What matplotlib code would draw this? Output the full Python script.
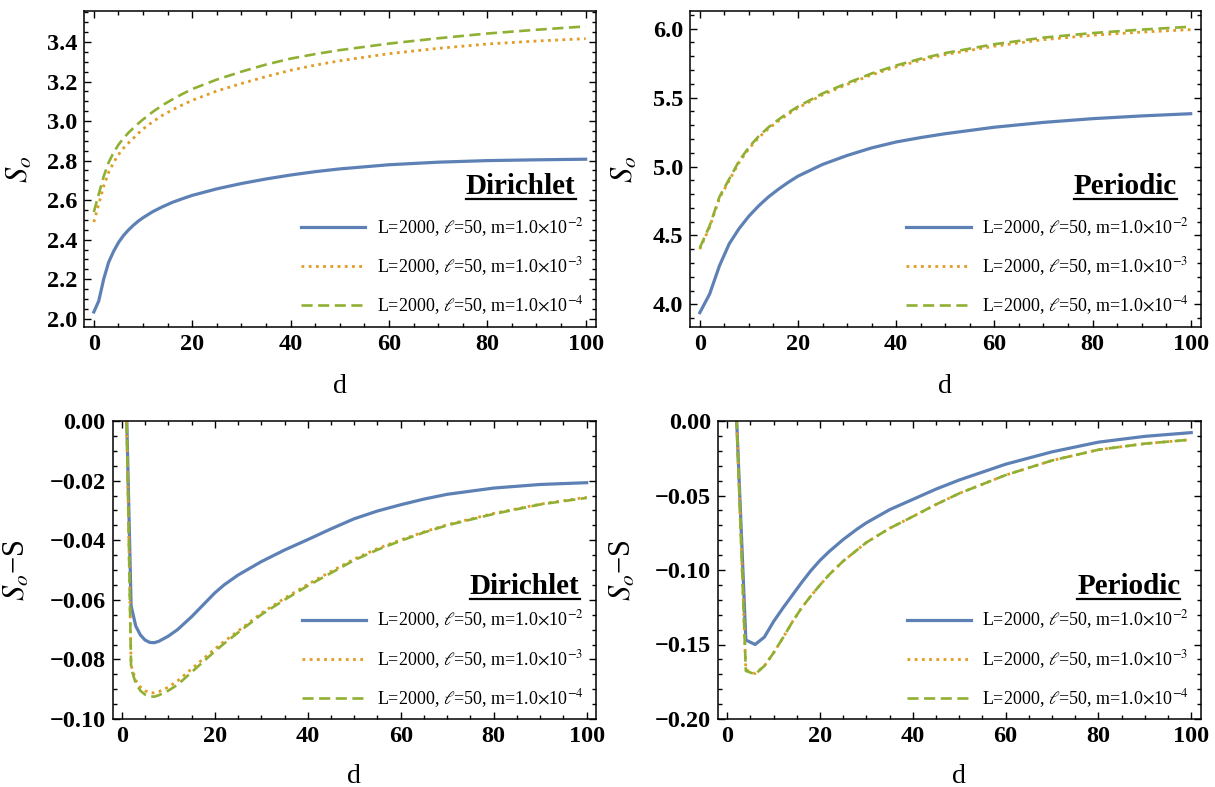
"""Entanglement S_o and S_o - S vs d for Dirichlet and periodic boundaries."""

import matplotlib
matplotlib.use("Agg")
from matplotlib import pyplot as plt
from matplotlib.lines import Line2D
from matplotlib.ticker import FuncFormatter, MultipleLocator
from matplotlib.transforms import IdentityTransform

BLUE = "#5E81B5"
ORANGE = "#E19C24"
GREEN = "#8FB032"

LABELS = [
    r"L=2000, $\ell$=50, m=1.0$\times$10$^{-2}$",
    r"L=2000, $\ell$=50, m=1.0$\times$10$^{-3}$",
    r"L=2000, $\ell$=50, m=1.0$\times$10$^{-4}$",
]

# top left: Dirichlet, S_o
d_dir = [0, 1, 2, 3, 4, 5, 6, 7, 8, 9, 10, 12, 14, 16, 18, 20, 25, 30, 35, 40, 45, 50,
         60, 70, 80, 90, 100]
so_dir_m2 = [2.034, 2.09, 2.20, 2.285, 2.34, 2.385, 2.42, 2.448, 2.472, 2.493, 2.511,
             2.542, 2.567, 2.589, 2.607, 2.624, 2.657, 2.684, 2.707, 2.727, 2.744, 2.758,
             2.779, 2.792, 2.800, 2.804, 2.807]
so_dir_m3 = [2.489, 2.58, 2.67, 2.74, 2.79, 2.83, 2.862, 2.888, 2.912, 2.937, 2.96,
             2.997, 3.03, 3.057, 3.082, 3.105, 3.152, 3.19, 3.225, 3.257, 3.283, 3.305,
             3.341, 3.368, 3.39, 3.405, 3.417]
so_dir_m4 = [2.54, 2.63, 2.72, 2.79, 2.84, 2.88, 2.912, 2.94, 2.964, 2.987, 3.008,
             3.047, 3.081, 3.11, 3.137, 3.162, 3.21, 3.25, 3.286, 3.316, 3.339, 3.359,
             3.392, 3.419, 3.443, 3.462, 3.479]

# top right: periodic, S_o
d_per = [0, 2, 4, 6, 8, 10, 12, 14, 16, 18, 20, 25, 30, 35, 40, 45, 50, 60, 70, 80, 90, 100]
so_per_m2 = [3.94, 4.075, 4.28, 4.44, 4.55, 4.64, 4.715, 4.78, 4.835, 4.885, 4.93, 5.015,
             5.08, 5.135, 5.178, 5.21, 5.238, 5.285, 5.32, 5.347, 5.367, 5.383]
so_per_m3 = [4.40, 4.56, 4.77, 4.90, 5.03, 5.13, 5.21, 5.275, 5.33, 5.38, 5.425, 5.52,
             5.595, 5.665, 5.722, 5.77, 5.812, 5.873, 5.92, 5.952, 5.975, 5.993]
so_per_m4 = [4.41, 4.57, 4.78, 4.91, 5.04, 5.14, 5.22, 5.285, 5.34, 5.39, 5.435, 5.53,
             5.605, 5.675, 5.733, 5.782, 5.823, 5.887, 5.935, 5.968, 5.993, 6.014]

# bottom left: Dirichlet, S_o - S
d_dir_diff = [1, 2, 3, 4, 5, 6, 7, 8, 10, 12, 15, 17, 20, 22, 25, 30, 35, 40, 45, 50, 55,
              60, 65, 70, 80, 90, 100]
diff_dir_m2 = [0.005, -0.062, -0.0688, -0.0718, -0.0735, -0.0743, -0.0744, -0.0739,
               -0.0722, -0.0700, -0.0657, -0.0625, -0.0577, -0.0550, -0.0517, -0.0472,
               -0.0433, -0.0398, -0.0362, -0.0328, -0.0302, -0.0281, -0.0262, -0.0246,
               -0.0225, -0.0213, -0.0207]
diff_dir_m3 = [0.005, -0.082, -0.087, -0.0893, -0.0905, -0.0912, -0.0912, -0.0908,
               -0.0893, -0.0872, -0.0832, -0.0805, -0.0765, -0.0740, -0.0705, -0.0645,
               -0.0595, -0.0548, -0.0505, -0.0463, -0.0428, -0.0399, -0.0372, -0.0348,
               -0.0310, -0.0279, -0.0256]
diff_dir_m4 = [0.005, -0.083, -0.088, -0.0905, -0.0918, -0.0924, -0.0925, -0.0920,
               -0.0905, -0.0885, -0.0843, -0.0815, -0.0773, -0.0747, -0.0710, -0.0650,
               -0.0600, -0.0553, -0.0510, -0.0467, -0.0432, -0.0402, -0.0374, -0.0350,
               -0.0312, -0.0280, -0.0258]

# bottom right: periodic, S_o - S
d_per_diff = [2, 4, 6, 8, 10, 12, 14, 16, 18, 20, 22, 25, 28, 30, 35, 40, 45, 50, 60, 70,
              80, 90, 100]
diff_per_m2 = [0.002, -0.147, -0.150, -0.145, -0.1345, -0.1255, -0.117, -0.1085, -0.1005,
               -0.0935, -0.0875, -0.0795, -0.0725, -0.0683, -0.0595, -0.0526, -0.0457,
               -0.0396, -0.029, -0.0207, -0.0142, -0.0103, -0.0078]
diff_per_m3 = [0.002, -0.167, -0.1695, -0.1644, -0.1555, -0.1455, -0.135, -0.1255, -0.1175,
               -0.110, -0.103, -0.094, -0.0865, -0.0815, -0.072, -0.0641, -0.056, -0.0486,
               -0.0363, -0.0265, -0.0193, -0.0152, -0.0125]
diff_per_m4 = [0.002, -0.1677, -0.170, -0.1644, -0.1555, -0.1455, -0.135, -0.1255, -0.1175,
               -0.110, -0.103, -0.094, -0.0865, -0.0815, -0.072, -0.0641, -0.056, -0.0486,
               -0.0363, -0.0265, -0.0193, -0.0152, -0.0125]


def tick_fmt(decimals):
    def fmt(v, _pos):
        if abs(v) < 1e-9:
            v = 0.0
        return f"{v:.{decimals}f}".replace("-", "\u2212")
    return FuncFormatter(fmt)


def style(ax, ylim, ymajor, yminor, decimals):
    ax.set_xlim(-2, 102)
    ax.set_ylim(*ylim)
    ax.xaxis.set_major_locator(MultipleLocator(20))
    ax.xaxis.set_minor_locator(MultipleLocator(5))
    ax.yaxis.set_major_locator(MultipleLocator(ymajor))
    ax.yaxis.set_minor_locator(MultipleLocator(yminor))
    ax.xaxis.set_major_formatter(FuncFormatter(lambda v, p: f"{v:.0f}"))
    ax.yaxis.set_major_formatter(tick_fmt(decimals))
    ax.tick_params(which="both", direction="in", top=True, right=True,
                   width=1.0, labelsize=17.5, pad=5)
    ax.tick_params(which="major", length=5)
    ax.tick_params(which="minor", length=2.8)
    for sp in ax.spines.values():
        sp.set_linewidth(1.1)
    plt.setp(ax.get_xticklabels() + ax.get_yticklabels(), fontweight="bold")


def draw(ax, x, ys):
    ax.plot(x, ys[0], color=BLUE, lw=2.3, label=LABELS[0])
    ax.plot(x, ys[1], color=ORANGE, lw=2.0, dashes=(1.0, 1.6), label=LABELS[1])
    ax.plot(x, ys[2], color=GREEN, lw=1.9, dashes=(4.2, 2.1), label=LABELS[2])


def main():
    plt.rcParams.update({
        "font.family": ["Liberation Serif", "DejaVu Serif"],
        "mathtext.fontset": "stix",
        "axes.unicode_minus": True,
    })
    W, H = 1215, 787
    fig = plt.figure(figsize=(W / 100, H / 100), dpi=100)

    def box(left, top, right, bottom):
        return [left / W, (H - bottom) / H, (right - left) / W, (bottom - top) / H]

    ax_tl = fig.add_axes(box(84, 11, 595.5, 327))
    ax_tr = fig.add_axes(box(690, 11, 1200.5, 327))
    ax_bl = fig.add_axes(box(112.5, 421, 596, 719))
    ax_br = fig.add_axes(box(718, 421, 1200.5, 719))

    draw(ax_tl, d_dir, [so_dir_m2, so_dir_m3, so_dir_m4])
    draw(ax_tr, d_per, [so_per_m2, so_per_m3, so_per_m4])
    draw(ax_bl, d_dir_diff, [diff_dir_m2, diff_dir_m3, diff_dir_m4])
    draw(ax_br, d_per_diff, [diff_per_m2, diff_per_m3, diff_per_m4])

    style(ax_tl, (1.958, 3.557), 0.2, 0.05, 1)
    style(ax_tr, (3.836, 6.128), 0.5, 0.1, 1)
    style(ax_bl, (-0.1, 0.0), 0.02, 0.005, 2)
    style(ax_br, (-0.2, 0.0), 0.05, 0.01, 2)

    panels = [
        (ax_tl, r"$S_o$", -0.096, 0.424, 0.191, "Dirichlet", 0.961, 0.421),
        (ax_tr, r"$S_o$", -0.098, 0.424, 0.191, "Periodic", 0.954, 0.421),
        (ax_bl, r"$S_o$" + "\u2212S", -0.166, 0.391, 0.201, "Dirichlet", 0.966, 0.419),
        (ax_br, r"$S_o$" + "\u2212S", -0.166, 0.391, 0.201, "Periodic", 0.958, 0.419),
    ]
    titles = []
    for ax, ylab, ylx, lgx, lgy, name, tx, ty in panels:
        ax.set_xlabel("d", fontsize=20)
        ax.xaxis.set_label_coords(0.5, -0.15)
        ax.set_ylabel(ylab, fontsize=22)
        ax.yaxis.set_label_coords(ylx, 0.5)
        ax.legend(loc="center left", bbox_to_anchor=(lgx, lgy), frameon=False,
                  fontsize=13, handlelength=3.55, handletextpad=0.65,
                  labelspacing=0.9, borderpad=0, borderaxespad=0)
        t = ax.text(tx, ty, name, transform=ax.transAxes, ha="right", va="baseline",
                    fontsize=21, fontweight="bold")
        titles.append((ax, t, tx, ty))

    fig.canvas.draw()
    renderer = fig.canvas.get_renderer()
    for ax, t, tx, ty in titles:
        bb = t.get_window_extent(renderer)
        base = ax.transAxes.transform((tx, ty))[1]
        fig.add_artist(Line2D([bb.x0, bb.x1], [base - 5, base - 5], color="black",
                              lw=1.6, transform=IdentityTransform()))

    fig.savefig("out.png", dpi=100)


if __name__ == "__main__":
    main()
